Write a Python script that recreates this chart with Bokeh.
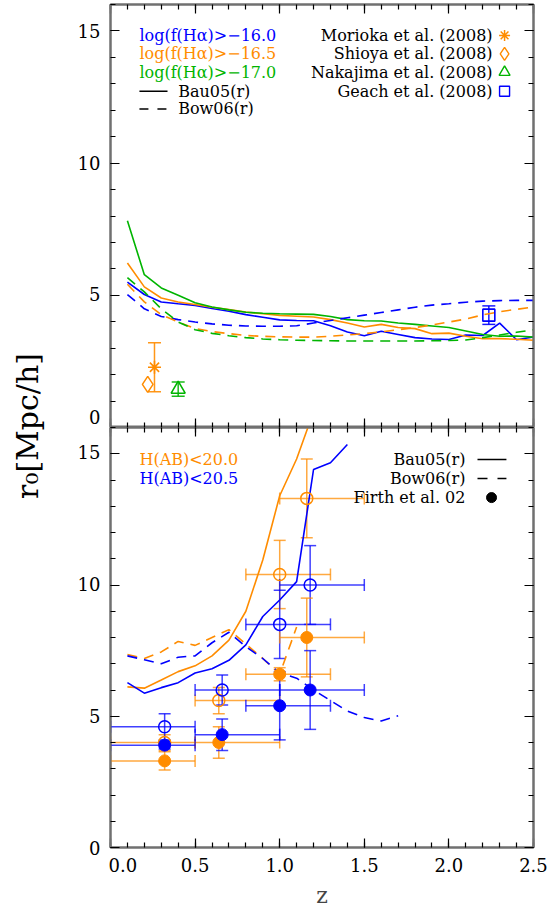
import numpy as np
from math import pi
from bokeh.plotting import figure
from bokeh.models import (Range1d, LinearAxis, FixedTicker, PrintfTickFormatter,
                          CustomJSTickFormatter, Whisker, TeeHead, ColumnDataSource, Label)
from bokeh.layouts import row, column
from bokeh.embed import file_html
from bokeh.resources import INLINE

# ---------------- data: upper panel (H-alpha emitters) ----------------
z_top = [0.1, 0.2, 0.3, 0.4, 0.5, 0.6, 0.7, 0.8, 0.9, 1.0, 1.1, 1.2, 1.3,
         1.4, 1.5, 1.6, 1.7, 1.8, 1.9, 2.0, 2.1, 2.2, 2.3, 2.4, 2.5]
bau_m160 = [5.50, 5.03, 4.75, 4.68, 4.62, 4.50, 4.40, 4.27, 4.17, 4.07, 4.05, 4.04, 3.85,
            3.61, 3.47, 3.64, 3.52, 3.40, 3.35, 3.33, 3.50, 3.48, 3.95, 3.32, 3.42]
bau_m165 = [6.22, 5.32, 4.90, 4.75, 4.65, 4.55, 4.46, 4.37, 4.30, 4.24, 4.21, 4.18, 4.08,
            3.95, 3.80, 3.90, 3.78, 3.74, 3.55, 3.57, 3.45, 3.36, 3.36, 3.34, 3.30]
bau_m170 = [7.82, 5.78, 5.28, 5.00, 4.72, 4.56, 4.45, 4.36, 4.32, 4.30, 4.29, 4.28, 4.20,
            4.08, 4.04, 4.03, 3.95, 3.90, 3.84, 3.78, 3.65, 3.52, 3.45, 3.46, 3.42]
bow_m160 = [5.03, 4.49, 4.20, 4.08, 3.99, 3.92, 3.87, 3.84, 3.83, 3.83, 3.85, 3.95, 4.05,
            4.15, 4.25, 4.35, 4.45, 4.55, 4.63, 4.68, 4.74, 4.78, 4.80, 4.81, 4.81]
bow_m165 = [5.42, 4.75, 4.27, 3.99, 3.74, 3.63, 3.55, 3.48, 3.45, 3.43, 3.42, 3.42, 3.45,
            3.50, 3.55, 3.62, 3.70, 3.78, 3.88, 3.99, 4.10, 4.26, 4.38, 4.47, 4.56]
bow_m170 = [5.67, 5.13, 4.49, 3.99, 3.70, 3.56, 3.47, 3.40, 3.35, 3.32, 3.30, 3.29, 3.28,
            3.27, 3.27, 3.27, 3.27, 3.27, 3.28, 3.29, 3.31, 3.40, 3.50, 3.60, 3.70]

morioka_z, morioka_r, morioka_err = [0.26], [2.28], [0.93]
shioya_z, shioya_r = [0.22], [1.63]
nakajima_z, nakajima_r, nakajima_err = [0.40], [1.45], [0.27]
geach_z, geach_r, geach_err = [2.236], [4.25], [0.35]

# ---------------- data: lower panel (H-band selected) ----------------
z_bau_h200 = [0.1, 0.2, 0.3, 0.4, 0.5, 0.6, 0.7, 0.8, 0.9, 1.0, 1.1, 1.2]
bau_h200 = [6.12, 6.07, 6.38, 6.70, 6.92, 7.30, 7.90, 9.00, 10.95, 13.40, 14.80, 16.60]
z_bau_h205 = [0.1, 0.2, 0.3, 0.4, 0.5, 0.6, 0.7, 0.8, 0.9, 1.0, 1.1, 1.2, 1.3, 1.4]
bau_h205 = [6.28, 5.88, 6.09, 6.28, 6.65, 6.81, 7.13, 7.72, 8.80, 9.43, 10.13, 14.40, 14.66, 15.35]
z_bow_h200 = [0.1, 0.2, 0.3, 0.4, 0.5, 0.6, 0.7, 0.8, 0.9, 1.0, 1.1]
bow_h200 = [7.35, 7.20, 7.45, 7.85, 7.70, 8.00, 8.30, 7.75, 7.20, 6.60, 8.40]
z_bow_h205 = [0.1, 0.2, 0.3, 0.4, 0.5, 0.6, 0.7, 0.8, 0.9, 1.0, 1.1, 1.2, 1.3, 1.4, 1.5, 1.6, 1.7]
bow_h205 = [7.30, 7.15, 7.00, 7.25, 7.30, 7.80, 8.20, 7.65, 7.20, 6.65, 6.45, 6.00, 5.60,
            5.20, 4.95, 4.82, 5.02]

zlo_bins = [0.0, 0.5, 0.8, 1.0]
zhi_bins = [0.5, 1.0, 1.3, 1.5]
h200_z = [0.32, 0.64, 1.00, 1.16]
h200_r = [4.00, 5.60, 10.40, 13.30]
h200_err = [0.30, 0.50, 1.30, 1.50]
h205_z = [0.32, 0.66, 1.00, 1.18]
h205_r = [4.60, 6.00, 8.50, 10.00]
h205_err = [0.50, 0.57, 1.30, 1.50]
firth_h200_z = [0.32, 0.64, 1.00, 1.16]
firth_h200_r = [3.30, 4.00, 6.60, 8.00]
firth_h200_err = [0.35, 0.60, 0.25, 1.50]
firth_h205_z = [0.32, 0.66, 1.00, 1.18]
firth_h205_r = [3.90, 4.30, 5.40, 6.00]
firth_h205_err = [0.15, 0.60, 1.30, 1.50]

# ---------------- axes ticks ----------------
x_major = [0.0, 0.5, 1.0, 1.5, 2.0, 2.5]
x_minor = [round(v, 1) for v in np.arange(0.0, 2.51, 0.1)]
y_major = [0, 5, 10, 15]
y_minor = list(range(0, 17))
# label column shared by both panels (lower panel 0..16, upper panel stacked above it)
y_label_ticks = [0, 5, 10, 15, 16.35, 21, 26, 31]

# ---------------- style ----------------
FONT = "DejaVu Serif"
ORANGE = "#ff8c00"
BLUE = "#0000ff"
GREEN = "#00b400"
FRAME = "#707070"
DASH = "10 7"
LW = 1.6
PANEL_W = 440


def style_axis(ax, labels):
    ax.axis_line_color = FRAME
    ax.axis_line_width = 2
    ax.major_tick_in = 9
    ax.major_tick_out = 0
    ax.minor_tick_in = 5
    ax.minor_tick_out = 0
    ax.major_tick_line_color = "black"
    ax.minor_tick_line_color = "black"
    ax.major_tick_line_width = 1.2
    ax.minor_tick_line_width = 1.2
    if labels:
        ax.major_label_text_font = FONT
        ax.major_label_text_font_size = "18px"
        ax.major_label_text_color = "black"
        ax.major_label_standoff = 10
    else:
        ax.major_label_text_font_size = "0px"
        ax.major_label_standoff = 0


def make_panel(height, top_border, bottom_border, xlabels):
    p = figure(width=PANEL_W, height=height, x_range=Range1d(0, 2.5), y_range=Range1d(0, 16),
               output_backend="svg", toolbar_location=None,
               x_axis_location=None, y_axis_location=None,
               min_border_left=2, min_border_right=15,
               min_border_top=top_border, min_border_bottom=bottom_border)
    p.grid.visible = False
    p.outline_line_color = FRAME
    p.outline_line_width = 2
    p.background_fill_color = "white"
    p.border_fill_color = "white"
    for loc in ("below", "above"):
        show = (loc == "below" and xlabels)
        fmt = PrintfTickFormatter(format="%.1f") if show else CustomJSTickFormatter(code="return '';")
        ax = LinearAxis(ticker=FixedTicker(ticks=x_major, minor_ticks=x_minor), formatter=fmt)
        style_axis(ax, labels=show)
        if show:
            ax.axis_label = "z"
            ax.axis_label_text_font = FONT
            ax.axis_label_text_font_size = "22px"
            ax.axis_label_text_font_style = "normal"
            ax.axis_label_standoff = 8
        p.add_layout(ax, loc)
    for loc in ("left", "right"):
        ax = LinearAxis(ticker=FixedTicker(ticks=y_major, minor_ticks=y_minor),
                        formatter=CustomJSTickFormatter(code="return '';"))
        style_axis(ax, labels=False)
        p.add_layout(ax, loc)
    return p


def errbars(p, base, lo, hi, color, dim, alpha=0.8, cap=12):
    src = ColumnDataSource(dict(base=base, lower=lo, upper=hi))
    w = Whisker(source=src, base="base", lower="lower", upper="upper", dimension=dim,
                line_color=color, line_alpha=alpha, line_width=1.5,
                upper_head=TeeHead(size=cap, line_color=color, line_alpha=alpha, line_width=1.5),
                lower_head=TeeHead(size=cap, line_color=color, line_alpha=alpha, line_width=1.5))
    p.add_layout(w)


def txt(p, x, y, s, color="black", align="left", size="16px"):
    p.add_layout(Label(x=x, y=y, text=s, text_color=color, text_align=align,
                       text_baseline="middle", text_font=FONT, text_font_size=size))


# ================= upper panel =================
p1 = make_panel(427, 4, 0, xlabels=False)

for ys, col in ((bau_m160, BLUE), (bau_m165, ORANGE), (bau_m170, GREEN)):
    p1.line(z_top, ys, line_color=col, line_width=LW)
for ys, col in ((bow_m160, BLUE), (bow_m165, ORANGE), (bow_m170, GREEN)):
    p1.line(z_top, ys, line_color=col, line_width=LW, line_dash=DASH)

mr = np.array(morioka_r); me = np.array(morioka_err)
errbars(p1, morioka_z, list(mr - me), list(mr + me), ORANGE, "height", alpha=0.9, cap=13)
nr = np.array(nakajima_r); ne = np.array(nakajima_err)
errbars(p1, nakajima_z, list(nr - ne), list(nr + ne), GREEN, "height", alpha=0.9, cap=13)
gr = np.array(geach_r); ge = np.array(geach_err)
errbars(p1, geach_z, list(gr - ge), list(gr + ge), BLUE, "height", alpha=0.9, cap=13)

p1.scatter(morioka_z, morioka_r, marker="asterisk", size=13, line_color=ORANGE, line_width=1.6)
p1.scatter(shioya_z, shioya_r, marker="diamond", size=16, line_color=ORANGE, fill_color=None, line_width=1.5)
p1.scatter(nakajima_z, nakajima_r, marker="triangle", size=14, line_color=GREEN, fill_color=None, line_width=1.6)
p1.scatter(geach_z, geach_r, marker="square", size=12, line_color=BLUE, fill_color=None, line_width=1.6)

# legend (upper)
rows_top = [14.83, 14.13, 13.44, 12.72, 12.05]
txt(p1, 0.171, rows_top[0], "log(f(H\u03b1)>\u221216.0", BLUE)
txt(p1, 0.171, rows_top[1], "log(f(H\u03b1)>\u221216.5", ORANGE)
txt(p1, 0.171, rows_top[2], "log(f(H\u03b1)>\u221217.0", GREEN)
p1.line([0.171, 0.337], [rows_top[3]] * 2, line_color="black", line_width=LW)
txt(p1, 0.40, rows_top[3], "Bau05(r)")
p1.line([0.171, 0.337], [rows_top[4]] * 2, line_color="black", line_width=LW, line_dash="9 9")
txt(p1, 0.40, rows_top[4], "Bow06(r)")

txt(p1, 2.258, rows_top[0], "Morioka et al. (2008)", align="right")
txt(p1, 2.258, rows_top[1], "Shioya et al. (2008)", align="right")
txt(p1, 2.258, rows_top[2], "Nakajima et al. (2008)", align="right")
txt(p1, 2.258, rows_top[3], "Geach et al. (2008)", align="right")
p1.scatter([2.329], [rows_top[0]], marker="asterisk", size=11, line_color=ORANGE, line_width=1.5)
p1.scatter([2.329], [rows_top[1]], marker="diamond", size=13, line_color=ORANGE, fill_color=None, line_width=1.4)
p1.scatter([2.329], [rows_top[2]], marker="triangle", size=11, line_color=GREEN, fill_color=None, line_width=1.4)
p1.scatter([2.329], [rows_top[3]], marker="square", size=10, line_color=BLUE, fill_color=None, line_width=1.4)

# ================= lower panel =================
p2 = make_panel(488, 0, 68, xlabels=True)

p2.line(z_bau_h200, bau_h200, line_color=ORANGE, line_width=LW)
p2.line(z_bau_h205, bau_h205, line_color=BLUE, line_width=LW)
p2.line(z_bow_h200, bow_h200, line_color=ORANGE, line_width=LW, line_dash=DASH)
p2.line(z_bow_h205, bow_h205, line_color=BLUE, line_width=LW, line_dash=DASH)

for zz, rr, ee, col in ((h200_z, h200_r, h200_err, ORANGE), (h205_z, h205_r, h205_err, BLUE),
                        (firth_h200_z, firth_h200_r, firth_h200_err, ORANGE),
                        (firth_h205_z, firth_h205_r, firth_h205_err, BLUE)):
    rr_a = np.array(rr); ee_a = np.array(ee)
    errbars(p2, zz, list(rr_a - ee_a), list(rr_a + ee_a), col, "height", alpha=0.75)
    errbars(p2, rr, zlo_bins, zhi_bins, col, "width", alpha=0.75)

p2.scatter(h200_z, h200_r, marker="circle", size=12, line_color=ORANGE, fill_color=None, line_width=1.5)
p2.scatter(h205_z, h205_r, marker="circle", size=12, line_color=BLUE, fill_color=None, line_width=1.5)
p2.scatter(firth_h200_z, firth_h200_r, marker="circle", size=12, line_color=ORANGE, fill_color=ORANGE)
p2.scatter(firth_h205_z, firth_h205_r, marker="circle", size=12, line_color=BLUE, fill_color=BLUE)

# legend (lower)
rows_bot = [14.78, 14.06, 13.33]
txt(p2, 0.171, rows_bot[0], "H(AB)<20.0", ORANGE)
txt(p2, 0.171, rows_bot[1], "H(AB)<20.5", BLUE)
txt(p2, 2.098, rows_bot[0], "Bau05(r)", align="right")
txt(p2, 2.098, rows_bot[1], "Bow06(r)", align="right")
txt(p2, 2.098, rows_bot[2], "Firth et al. 02", align="right")
p2.line([2.169, 2.340], [rows_bot[0]] * 2, line_color="black", line_width=LW)
p2.line([2.169, 2.340], [rows_bot[1]] * 2, line_color="black", line_width=LW, line_dash="10 10")
p2.scatter([2.252], [rows_bot[2]], marker="circle", size=10, line_color="black", fill_color="black")

# ================= shared y tick labels + y title =================
p0 = figure(width=548 - PANEL_W, height=915, x_range=Range1d(0, 1), y_range=Range1d(0, 32),
            output_backend="svg", toolbar_location=None,
            x_axis_location=None, y_axis_location=None,
            min_border_left=104, min_border_right=0, min_border_top=4, min_border_bottom=68)
p0.grid.visible = False
p0.outline_line_color = None
p0.background_fill_color = None
yl = LinearAxis(ticker=FixedTicker(ticks=y_label_ticks, minor_ticks=[]),
                formatter=CustomJSTickFormatter(
                    code="return String(Math.round(tick >= 16 ? tick - 16 : tick));"))
yl.axis_line_color = None
yl.major_tick_line_color = None
yl.minor_tick_line_color = None
yl.major_tick_in = 0
yl.major_tick_out = 0
yl.major_label_standoff = 4
yl.major_label_text_font = FONT
yl.major_label_text_font_size = "18px"
yl.major_label_text_color = "black"
yl.axis_label = "r\u2080[Mpc/h]"
yl.axis_label_text_font = FONT
yl.axis_label_text_font_size = "30px"
yl.axis_label_text_font_style = "normal"
yl.axis_label_text_color = "black"
yl.axis_label_standoff = 30
p0.add_layout(yl, "left")

layout = row(p0, column(p1, p2))
open("out.html", "w").write(file_html(layout, INLINE))
